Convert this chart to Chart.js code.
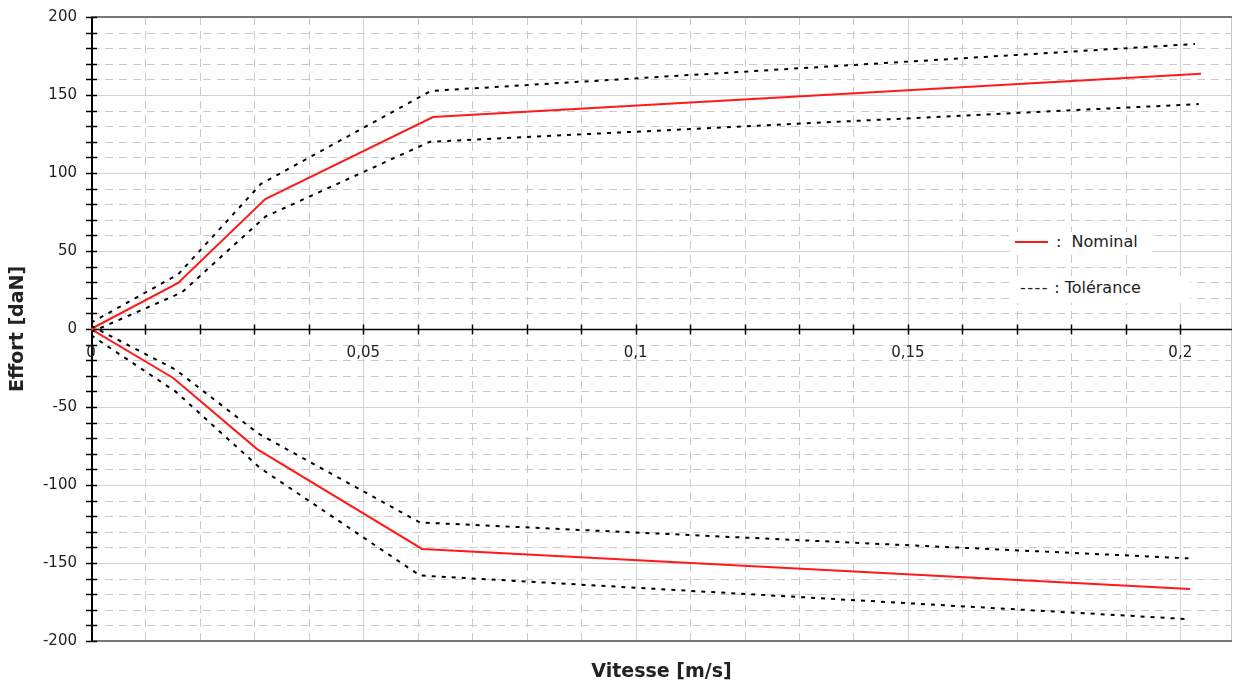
<!DOCTYPE html>
<html lang="fr">
<head>
<meta charset="utf-8">
<title>Effort / Vitesse</title>
<script src="https://cdn.jsdelivr.net/npm/chart.js@4.4.1/dist/chart.umd.min.js"></script>
<style>
  html, body { margin:0; padding:0; background:#fff; }
  #wrap { position:relative; width:1234px; height:684px; }
  .leg { position:absolute; background:#fff; font-family:'DejaVu Sans', Verdana, sans-serif;
         font-size:16px; color:#222; white-space:nowrap; line-height:20px; }
  .leg .trait { display:inline-block; width:33px; height:0; border-top:2px solid #ff1a1a;
                vertical-align:middle; margin:0 8px 2px 5px; }
  .leg .tirets { letter-spacing:1.5px; margin-left:6px; }
</style>
</head>
<body>
<div id="wrap">
  <canvas id="chart-effort"></canvas>
  <div class="leg" style="left:1010px;top:232px;width:142px;height:21px;"><span class="trait"></span>:&nbsp; Nominal</div>
  <div class="leg" style="left:1014px;top:276px;width:176px;height:25px;padding-top:2px;"><span class="tirets">----</span>&nbsp;:&nbsp;Tolérance</div>
</div>
<script>
// ── Données ─────────────────────────────────────────────────
// branche positive (effort > 0)
const nomHautX    = [0, 0.0160, 0.0320, 0.0628, 0.2038];
const nomHautY    = [0, 29.5, 83.3, 135.9, 163.7];
const tolHautSupX = [0, 0.0160, 0.0312, 0.0624, 0.2027];
const tolHautSupY = [4, 35, 93, 152.6, 182.7];
const tolHautInfX = [0, 0.0167, 0.0320, 0.0622, 0.2034];
const tolHautInfY = [-2, 23.5, 72, 120, 144.2];
// branche négative (effort < 0)
const nomBasX     = [0, 0.0151, 0.0305, 0.0608, 0.2018];
const nomBasY     = [0, -31.4, -77, -141, -166.7];
const tolBasSupX  = [0, 0.0155, 0.0307, 0.0604, 0.2015];
const tolBasSupY  = [2, -26, -67, -124, -147];
const tolBasInfX  = [0, 0.0155, 0.0310, 0.0604, 0.2015];
const tolBasInfY  = [-4, -40, -89, -158, -186];

const xGrilleMineure = [0.01,0.02,0.03,0.04,0.06,0.07,0.08,0.09,0.11,0.12,0.13,0.14,0.16,0.17,0.18,0.19,0.21];
const xGrilleMajeure = [0.05, 0.1, 0.15, 0.2];
const yGrilleMajeure = [-150, -100, -50, 50, 100, 150];

const ROUGE = '#ff1a1a';
const NOIR  = '#000';
const FONTE = "'DejaVu Sans', Verdana, sans-serif";

const pts = (xs, ys) => xs.map((x, i) => ({ x, y: ys[i] }));

function serieNominale(xs, ys) {
  return { data: pts(xs, ys), borderColor: ROUGE, borderWidth: 2, pointRadius: 0, tension: 0, fill: false };
}
function serieTolerance(xs, ys) {
  return { data: pts(xs, ys), borderColor: NOIR, borderWidth: 2, borderDash: [4, 6], pointRadius: 0, tension: 0, fill: false };
}

// grille pointillée + axes à zéro (tracés via les échelles)
const grille = {
  id: 'grille',
  beforeDraw(chart) {
    const { ctx, chartArea: a, scales: { x, y } } = chart;
    ctx.save();
    ctx.lineWidth = 1;
    // mineures pointillées
    ctx.strokeStyle = '#cacaca';
    ctx.setLineDash([8, 6]);
    xGrilleMineure.forEach(v => {
      const px = Math.round(x.getPixelForValue(v)) + 0.5;
      ctx.beginPath(); ctx.moveTo(px, a.top); ctx.lineTo(px, a.bottom); ctx.stroke();
    });
    for (let v = -190; v < 200; v += 10) {
      if (v % 50 === 0) continue;
      const py = Math.round(y.getPixelForValue(v)) + 0.5;
      ctx.beginPath(); ctx.moveTo(a.left, py); ctx.lineTo(a.right, py); ctx.stroke();
    }
    // majeures pleines
    ctx.setLineDash([]);
    ctx.strokeStyle = '#d2d2d2';
    xGrilleMajeure.forEach(v => {
      const px = Math.round(x.getPixelForValue(v)) + 0.5;
      ctx.beginPath(); ctx.moveTo(px, a.top); ctx.lineTo(px, a.bottom); ctx.stroke();
    });
    yGrilleMajeure.forEach(v => {
      const py = Math.round(y.getPixelForValue(v)) + 0.5;
      ctx.beginPath(); ctx.moveTo(a.left, py); ctx.lineTo(a.right, py); ctx.stroke();
    });
    // cadre
    ctx.strokeStyle = '#c8c8c8';
    ctx.beginPath(); ctx.moveTo(a.right - 0.5, a.top); ctx.lineTo(a.right - 0.5, a.bottom); ctx.stroke();
    ctx.lineWidth = 2;
    ctx.strokeStyle = '#777';
    ctx.beginPath(); ctx.moveTo(a.left, a.top); ctx.lineTo(a.right, a.top); ctx.stroke();
    ctx.beginPath(); ctx.moveTo(a.left, a.bottom); ctx.lineTo(a.right, a.bottom); ctx.stroke();
    // axe horizontal à effort = 0
    const y0 = Math.round(y.getPixelForValue(0)) + 0.5;
    ctx.strokeStyle = NOIR;
    ctx.lineWidth = 1.5;
    ctx.beginPath(); ctx.moveTo(a.left, y0); ctx.lineTo(a.right, y0); ctx.stroke();
    for (let i = 1; i <= 20; i++) {
      const px = Math.round(x.getPixelForValue(i / 100)) + 0.5;
      ctx.beginPath(); ctx.moveTo(px, y0 - 5); ctx.lineTo(px, y0 + 5); ctx.stroke();
    }
    // axe vertical
    const x0 = a.left + 1;
    ctx.lineWidth = 2;
    ctx.beginPath(); ctx.moveTo(x0, a.top); ctx.lineTo(x0, a.bottom); ctx.stroke();
    ctx.lineWidth = 1.5;
    for (let v = -200; v <= 200; v += 10) {
      const py = Math.round(y.getPixelForValue(v)) + 0.5;
      ctx.beginPath(); ctx.moveTo(x0 - 6, py); ctx.lineTo(x0 + 5, py); ctx.stroke();
    }
    ctx.restore();
  }
};

const ctx = document.getElementById('chart-effort');
new Chart(ctx, {
  type: 'line',
  data: { datasets: [
    serieTolerance(tolHautSupX, tolHautSupY),
    serieTolerance(tolHautInfX, tolHautInfY),
    serieTolerance(tolBasSupX, tolBasSupY),
    serieTolerance(tolBasInfX, tolBasInfY),
    serieNominale(nomHautX, nomHautY),
    serieNominale(nomBasX, nomBasY),
  ]},
  plugins: [grille],
  options: {
    responsive: true, maintainAspectRatio: false, animation: false,
    layout: { padding: { top: 17, right: 2, left: 0, bottom: 0 } },
    plugins: { legend: { display: false }, tooltip: { enabled: false } },
    scales: {
      x: {
        type: 'linear', min: 0, max: 0.2095, position: { y: 0 },
        grid: { display: false }, border: { display: false },
        ticks: { stepSize: 0.05, includeBounds: false, padding: 7, color: '#222',
          font: { family: FONTE, size: 15 },
          callback: v => v.toLocaleString('fr-FR', { maximumFractionDigits: 2 }) },
        afterFit: s => { s.paddingLeft = 0; s.paddingRight = 0; }
      },
      xt: {
        axis: 'x', type: 'linear', position: 'bottom', min: 0, max: 1,
        grid: { display: false }, border: { display: false }, ticks: { display: false },
        title: { display: true, text: 'Vitesse [m/s]', color: '#222', padding: { top: 0, bottom: 1 },
          font: { family: FONTE, size: 19, weight: 'bold' } },
        afterFit: s => { s.height = 43; s.paddingLeft = 0; s.paddingRight = 0; }
      },
      y: {
        type: 'linear', min: -200, max: 200, position: 'left',
        grid: { display: false, drawTicks: false }, border: { display: false },
        ticks: { stepSize: 50, padding: 14, color: '#222', font: { family: FONTE, size: 15 } },
        title: { display: true, text: 'Effort [daN]', color: '#222', padding: { top: 7, bottom: 0 },
          font: { family: FONTE, size: 19, weight: 'bold' } },
        afterFit: s => { s.width = 91; s.paddingTop = 0; s.paddingBottom = 0; }
      }
    }
  }
});
</script>
</body>
</html>
